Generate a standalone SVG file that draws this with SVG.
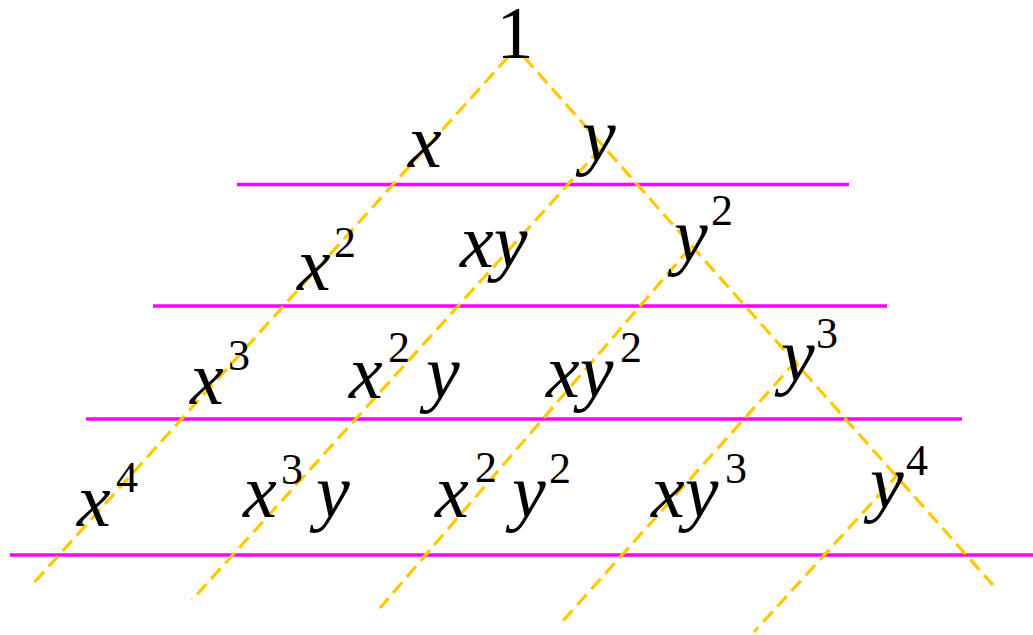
<svg xmlns="http://www.w3.org/2000/svg" width="1033" height="635" viewBox="0 0 1033 635">
<style>
.v{font-style:italic;font-size:76px;fill:#000}
.n{font-size:44px;fill:#000}
.one{font-size:74px;fill:#000}
.h{stroke:#FF00FF;stroke-width:3.3;fill:none}
.d{stroke:#FFC800;stroke-width:3.2;stroke-dasharray:14 7;fill:none}
</style>
<rect width="1033" height="635" fill="#fff"/>
<g id="connectors">
<line class="h" x1="237" y1="184.5" x2="849" y2="184.5"/>
<line class="h" x1="153" y1="306" x2="887" y2="306"/>
<line class="h" x1="86" y1="419" x2="962" y2="419"/>
<line class="h" x1="10" y1="555" x2="1033" y2="555"/>
<line class="d" x1="508" y1="57" x2="32" y2="585"/>
<line class="d" x1="524" y1="57" x2="993" y2="585"/>
<line class="d" x1="601" y1="148" x2="192" y2="600"/>
<line class="d" x1="690" y1="248" x2="380" y2="608"/>
<line class="d" x1="797" y1="360" x2="561" y2="623"/>
<line class="d" x1="900" y1="472" x2="754" y2="632"/>
</g>
<g font-family="'Liberation Serif', 'DejaVu Serif', serif">
<g id="n1"><text class="one" x="515" y="58" text-anchor="middle">1</text></g>
<g id="nx"><text class="v" x="408" y="167">x</text></g>
<g id="ny"><text class="v" x="582" y="161">y</text></g>
<g id="nx2"><text class="v" x="297" y="290">x</text><text class="n" x="334" y="257">2</text></g>
<g id="nxy"><text class="v" x="460" y="267">xy</text></g>
<g id="ny2"><text class="v" x="674" y="261">y</text><text class="n" x="711" y="225">2</text></g>
<g id="nx3"><text class="v" x="190" y="404">x</text><text class="n" x="228" y="370">3</text></g>
<g id="nx2y"><text class="v" x="349" y="398">x</text><text class="n" x="388" y="362">2</text><text class="v" x="426" y="398">y</text></g>
<g id="nxy2"><text class="v" x="546" y="397">xy</text><text class="n" x="620" y="362">2</text></g>
<g id="ny3"><text class="v" x="781" y="381">y</text><text class="n" x="816" y="348">3</text></g>
<g id="nx4"><text class="v" x="77" y="526">x</text><text class="n" x="116" y="492">4</text></g>
<g id="nx3y"><text class="v" x="243" y="517">x</text><text class="n" x="281" y="484">3</text><text class="v" x="316" y="517">y</text></g>
<g id="nx2y2"><text class="v" x="435" y="517">x</text><text class="n" x="475" y="482">2</text><text class="v" x="512" y="517">y</text><text class="n" x="549" y="483">2</text></g>
<g id="nxy3"><text class="v" x="651" y="517">xy</text><text class="n" x="725" y="483">3</text></g>
<g id="ny4"><text class="v" x="870" y="508">y</text><text class="n" x="906" y="475">4</text></g>
</g>
</svg>
